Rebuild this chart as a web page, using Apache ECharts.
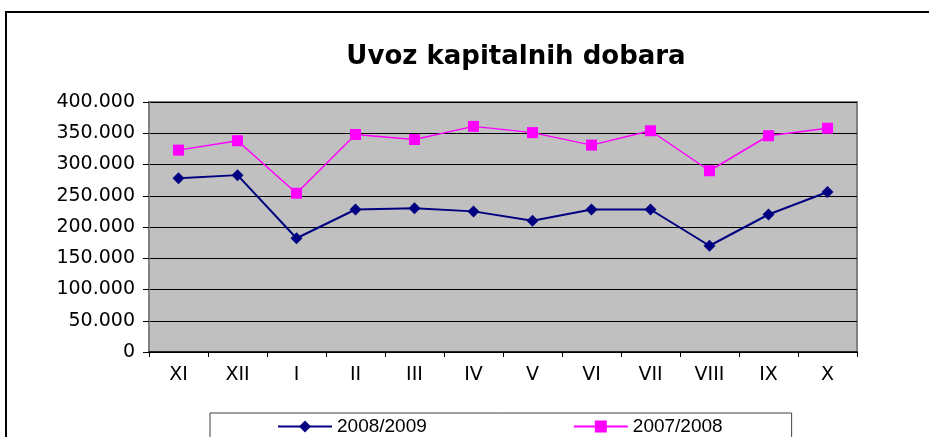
<!DOCTYPE html>
<html>
<head>
<meta charset="utf-8">
<script src="https://cdn.jsdelivr.net/npm/echarts@6/dist/echarts.min.js"></script>
<style>
  html, body { margin: 0; padding: 0; background: #fff; }
  #chart { width: 929px; height: 437px; position: absolute; left: 0; top: 0; }
  #frame { position: absolute; left: 5px; top: 11px; width: 940px; height: 440px; border: 2px solid #000; box-sizing: border-box; }
</style>
</head>
<body>
<div id="frame"></div>
<div id="chart"></div>
<script>
const months = ['XI', 'XII', 'I', 'II', 'III', 'IV', 'V', 'VI', 'VII', 'VIII', 'IX', 'X'];
const seasonA = [278000, 283000, 182000, 228000, 230000, 225000, 210000, 228000, 228000, 170000, 220000, 256000]; // 2008/2009
const seasonB = [323000, 338000, 254000, 348000, 340000, 361000, 351000, 331000, 354000, 290000, 346000, 358000]; // 2007/2008
const seriesNames = ['2008/2009', '2007/2008'];

const fmt = (v) => String(v).replace(/\B(?=(\d{3})+(?!\d))/g, '.');

const chart = echarts.init(document.getElementById('chart'), null, { renderer: 'canvas' });

chart.setOption({
  animation: false,
  backgroundColor: 'transparent',
  title: {
    text: 'Uvoz kapitalnih dobara',
    left: 511,
    top: 39,
    textAlign: 'center',
    textStyle: { fontFamily: 'DejaVu Sans', fontWeight: 'bold', fontSize: 26, color: '#000' },
  },
  legend: {
    data: seriesNames,
    left: 210,
    top: 413,
    orient: 'horizontal',
    padding: [4, 69, 20, 67],
    itemGap: 146,
    itemWidth: 54,
    itemHeight: 15,
    borderColor: '#404040',
    borderWidth: 1,
    textStyle: { fontFamily: 'Liberation Sans', fontSize: 19, color: '#000' },
  },
  grid: {
    left: 149,
    right: 72,
    top: 102,
    bottom: 85,
    show: true,
    backgroundColor: '#c0c0c0',
    borderColor: '#808080',
    borderWidth: 2,
  },
  xAxis: {
    type: 'category',
    data: months,
    boundaryGap: true,
    axisLine: { lineStyle: { color: '#000', width: 1.5 } },
    axisTick: { show: true, length: 5, inside: false, lineStyle: { color: '#000' } },
    axisLabel: { margin: 14, fontFamily: 'DejaVu Sans', fontSize: 19, color: '#000' },
  },
  yAxis: {
    type: 'value',
    min: 0,
    max: 400000,
    interval: 50000,
    axisLine: { show: true, lineStyle: { color: '#808080', width: 2 } },
    axisTick: { show: true, length: 6, lineStyle: { color: '#000' } },
    axisLabel: { margin: 14, fontFamily: 'DejaVu Sans', fontSize: 19, color: '#000', formatter: fmt },
    splitLine: { show: true, lineStyle: { color: '#000', width: 1 } },
  },
  series: [
    {
      name: seriesNames[0],
      type: 'line',
      data: seasonA,
      symbol: 'diamond',
      symbolSize: 12,
      itemStyle: { color: '#000080' },
      lineStyle: { color: '#000080', width: 2 },
    },
    {
      name: seriesNames[1],
      type: 'line',
      data: seasonB,
      symbol: 'rect',
      symbolSize: 11,
      itemStyle: { color: '#ff00ff' },
      lineStyle: { color: '#ff00ff', width: 1.5 },
    },
  ],
});
</script>
</body>
</html>
